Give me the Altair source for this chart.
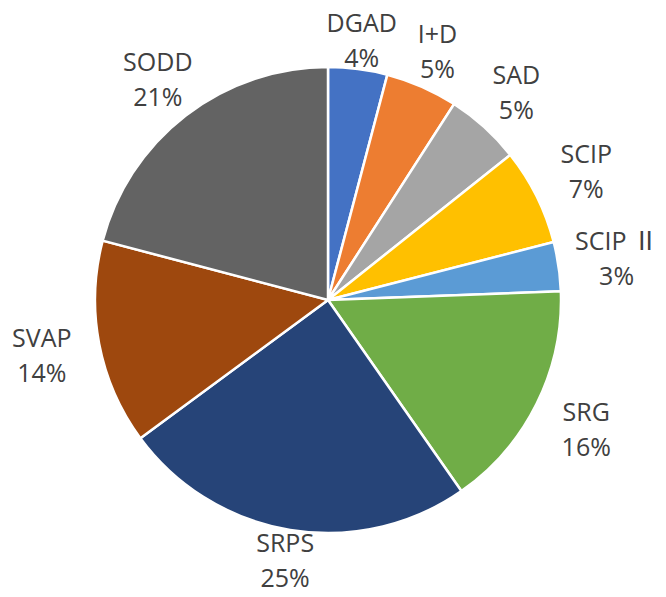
import altair as alt
import pandas as pd

names = ["DGAD", "I+D", "SAD", "SCIP", "SCIP Ⅱ", "SRG", "SRPS", "SVAP", "SODD"]
values = [4.1, 5.0, 5.2, 6.7, 3.4, 15.9, 24.6, 14.2, 20.9]
colors = ["#4472C4", "#ED7D31", "#A5A5A5", "#FFC000", "#5B9BD5",
          "#70AD47", "#264478", "#9E480E", "#636363"]

df = pd.DataFrame({"name": names, "value": values, "idx": list(range(len(names)))})

base = alt.Chart(df).transform_joinaggregate(
    total="sum(value)"
).transform_window(
    cum="sum(value)", sort=[alt.SortField("idx")], frame=[None, 0]
).transform_calculate(
    mid="(datum.cum - datum.value / 2) / datum.total * 2 * PI",
    lr="258 + 34 * abs(sin(datum.mid))",
    label="datum.name + '\\n' + format(datum.value / datum.total, '.0%')",
)

pie = base.mark_arc(radius=233, stroke="white", strokeWidth=2.5).encode(
    theta=alt.Theta("value:Q", stack=True),
    color=alt.Color("name:N", scale=alt.Scale(domain=names, range=colors), legend=None),
    order=alt.Order("idx:Q"),
)

text = base.mark_text(
    font="Open Sans, Noto Sans CJK JP", fontSize=25, color="#404040", lineBreak="\n",
    lineHeight=35, align="center", baseline="middle", dy=-16
).encode(
    theta=alt.Theta("mid:Q", scale=None),
    radius=alt.Radius("lr:Q", scale=None),
    text="label:N",
)

chart = alt.layer(pie, text).resolve_scale(theta="independent").properties(
    width=632, height=584,
    autosize=alt.AutoSizeParams(type="none"),
    padding={"left": 4, "top": 0, "right": 14, "bottom": -3},
).configure_view(stroke=None)

chart.save("out.html", embed_options={"renderer": "svg", "actions": False})
